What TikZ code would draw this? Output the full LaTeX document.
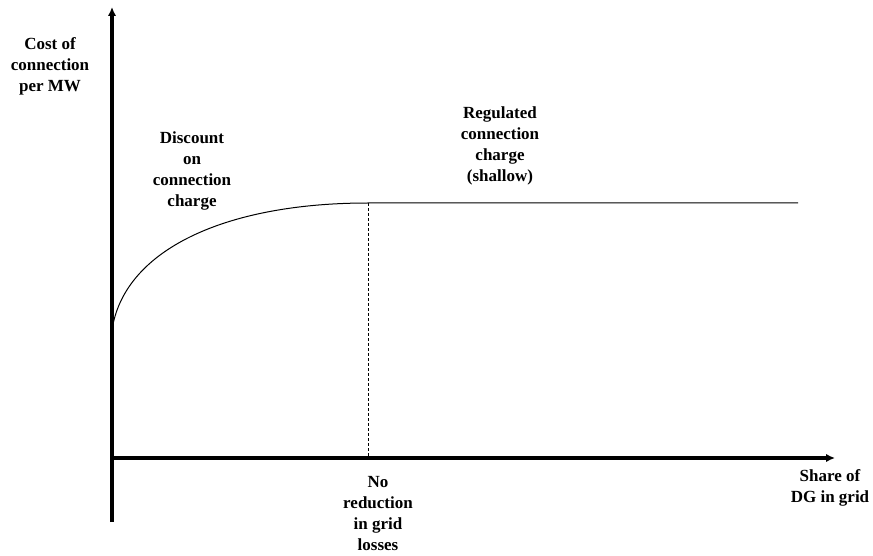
\documentclass[tikz,border=0pt]{standalone}
\usepackage{fontspec}
\setmainfont{Liberation Serif}
\usepackage{tikz}
\usetikzlibrary{arrows.meta}
\usetikzlibrary{positioning}
\tikzset{axis/.style = {line width = 3.2pt, -{Latex[length = 9pt, width = 8.5pt]}}}
\tikzset{lbl/.style = {align = center, inner sep = 0,
                       font = \fontsize{17}{21}\selectfont\bfseries}}
\tikzset{thin line/.style = {line width = 1pt}}

\begin{document}
\begin{tikzpicture}[x = 1pt, y = -1pt]
      \useasboundingbox (0, 0) rectangle (873, 556);
      \coordinate (o) at (111, 458);
      \coordinate (ybot) at (112, 522);
      \coordinate (ytop) at (112, 7);
      \coordinate (xend) at (835, 458);
      \coordinate (start) at (112, 350);
      \coordinate (knee) at (112, 330);
      \coordinate (flat) at (368, 203);
      \coordinate (flatend) at (798, 203);
      \coordinate (foot) at (368, 458);
      \draw [axis] (ybot) -- (ytop);
      \draw [axis] (o) -- (xend);
      \draw [thin line] (start) -- (knee) .. controls (124, 250) and (225, 203) .. (flat) -- (flatend);
      \draw [thin line, dash pattern = on 3pt off 2pt] (flat) -- (foot);
      \node [lbl] (ylabel) at (50, 66) {Cost of\\connection\\per MW};
      \node [lbl] (discount) at (192, 171) {Discount\\on\\connection\\charge};
      \node [lbl] (regulated) at (500, 146) {Regulated\\connection\\charge\\(shallow)};
      \node [lbl] (noreduction) at (378, 514) {No\\reduction\\in grid\\losses};
      \node [lbl] (xlabel) at (830, 488) {Share of\\DG in grid};
    \end{tikzpicture}
\end{document}
